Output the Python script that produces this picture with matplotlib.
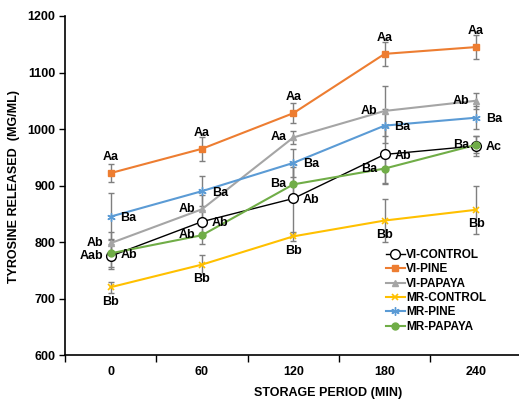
import matplotlib

matplotlib.use('Agg')
import matplotlib.pyplot as plt
import numpy as np

plt.rcParams['font.family'] = ['Liberation Sans', 'DejaVu Sans']
plt.rcParams['font.weight'] = 'bold'

periods = ['0', '60', '120', '180', '240']

series_names = ['VI-CONTROL', 'VI-PINE', 'VI-PAPAYA', 'MR-CONTROL', 'MR-PINE', 'MR-PAPAYA']

vi_control = [775, 836, 877, 955, 970]
vi_pine = [922, 965, 1028, 1133, 1145]
vi_papaya = [798, 858, 985, 1032, 1050]
mr_control = [720, 760, 810, 838, 857]
mr_pine = [845, 890, 940, 1006, 1020]
mr_papaya = [780, 812, 902, 930, 972]

vi_control_err = [22, 20, 65, 50, 18]
vi_pine_err = [16, 21, 18, 21, 21]
vi_papaya_err = [20, 25, 11, 44, 14]
mr_control_err = [10, 17, 8, 38, 43]
mr_pine_err = [42, 27, 25, 30, 20]
mr_papaya_err = [25, 16, 30, 27, 15]

vi_control_lbl = ['Aab', 'Ab', 'Ab', 'Ab', 'Ac']
vi_pine_lbl = ['Aa', 'Aa', 'Aa', 'Aa', 'Aa']
vi_papaya_lbl = ['Ab', 'Ab', 'Aa', 'Ab', 'Ab']
mr_control_lbl = ['Bb', 'Bb', 'Bb', 'Bb', 'Bb']
mr_pine_lbl = ['Ba', 'Ba', 'Ba', 'Ba', 'Ba']
mr_papaya_lbl = ['Ab', 'Ab', 'Ba', 'Ba', 'Ba']

# where each series puts its letters, relative to the point
vi_control_pos = ['left', 'right', 'right', 'right', 'right']
vi_pine_pos = ['above'] * 5
vi_papaya_pos = ['left'] * 5
mr_control_pos = ['below'] * 5
mr_pine_pos = ['right'] * 5
mr_papaya_pos = ['right', 'left', 'left', 'left', 'left']

offsets = {
    'above': ((0, 7), 'center', 'bottom'),
    'below': ((0, -6), 'center', 'top'),
    'right': ((7, -1), 'left', 'center'),
    'left': ((-5, 0), 'right', 'center'),
}

styles = [
    dict(color='black', marker='o', ms=7, mfc='white', mec='black', lw=1.0),
    dict(color='#ED7D31', marker='s', ms=5, lw=1.5),
    dict(color='#A5A5A5', marker='^', ms=5, lw=1.5),
    dict(color='#FFC000', marker='x', ms=5, mew=1.2, lw=1.5),
    dict(color='#5B9BD5', marker=(6, 2, 0), ms=6, mew=1.0, lw=1.5),
    dict(color='#70AD47', marker='o', ms=5, lw=1.5),
]

values = [vi_control, vi_pine, vi_papaya, mr_control, mr_pine, mr_papaya]
errors = [vi_control_err, vi_pine_err, vi_papaya_err, mr_control_err, mr_pine_err, mr_papaya_err]
letters = [vi_control_lbl, vi_pine_lbl, vi_papaya_lbl, mr_control_lbl, mr_pine_lbl, mr_papaya_lbl]
places = [vi_control_pos, vi_pine_pos, vi_papaya_pos, mr_control_pos, mr_pine_pos, mr_papaya_pos]

fig = plt.figure(figsize=(5.19, 4.01), dpi=100)
ax = fig.add_axes([0.1252, 0.1147, 0.88, 0.8454])

x = np.arange(len(periods))
for name, y, err, st in zip(series_names, values, errors, styles):
    ax.errorbar(x, y, yerr=err, fmt='none', ecolor='#7f7f7f', elinewidth=1.0,
                capsize=2, capthick=1.0, zorder=2)
    ax.plot(x, y, label=name, zorder=3, **st)

for y, lbl, pos in zip(values, letters, places):
    for i in range(len(x)):
        off, ha, va = offsets[pos[i]]
        ax.annotate(lbl[i], (x[i], y[i]), xytext=off, textcoords='offset points',
                    ha=ha, va=va, fontsize=9, fontweight='bold', zorder=4)

ax.set_xlim(-0.5, 4.5)
ax.set_ylim(600, 1200)
ax.set_yticks(np.arange(600, 1201, 100))
ax.set_xticks(x)
ax.set_xticklabels(periods)
ax.set_xticks(np.arange(-0.5, 4.6, 1), minor=True)
ax.tick_params(axis='x', which='major', length=0, pad=8, labelsize=9)
ax.tick_params(axis='x', which='minor', length=5, width=1, direction='out')
ax.tick_params(axis='y', length=4, width=1, labelsize=9, pad=3)

for s in ['top', 'right']:
    ax.spines[s].set_visible(False)
for s in ['left', 'bottom']:
    ax.spines[s].set_linewidth(1.2)

ax.set_xlabel('STORAGE PERIOD (MIN)', fontsize=9, fontweight='bold')
ax.xaxis.set_label_coords(0.576, -0.093)
ax.set_ylabel('TYROSINE RELEASED  (MG/ML)', fontsize=9, fontweight='bold')
ax.yaxis.set_label_coords(-0.098, 0.497)

ax.legend(loc='upper left', bbox_to_anchor=(0.69, 0.33), frameon=False, fontsize=8.5,
          handlelength=1.6, handletextpad=0.1, labelspacing=0.2, borderpad=0)

fig.savefig('out.png', dpi=100)
